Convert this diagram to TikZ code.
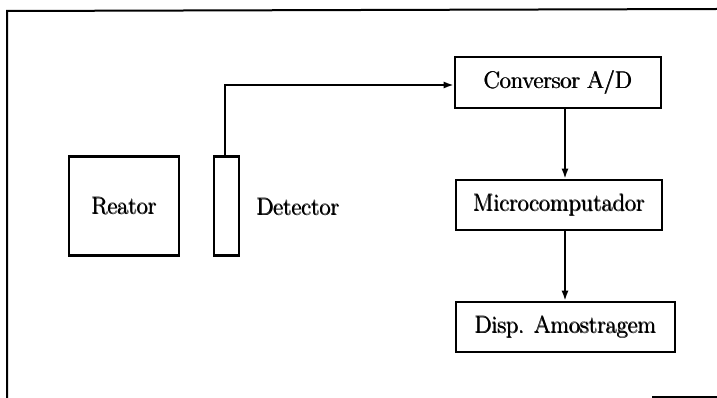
\documentclass[tikz,border=0pt]{standalone}
\usepackage{fontspec}
\usetikzlibrary{arrows.meta}
\newcommand{\heavytext}{\fontsize{24}{28}\selectfont\addfontfeatures{FakeStretch=1.2}}
\newcommand{\hv}[1]{\rlap{#1}\rlap{\raisebox{0.5pt}{#1}}\kern0.8pt#1}
\begin{document}
\begin{tikzpicture}[x=1pt,y=-1pt,
  blk/.style={draw,line width=2.6pt,inner sep=0pt,font=\heavytext},
  conn/.style={line width=1.8pt,-{Latex[length=10pt,width=7pt]}},
  frameline/.style={line width=2pt}]
\useasboundingbox (0,0) rectangle (717,398);
% frame (as scanned)
\coordinate (ftl) at (7,11);
\coordinate (ftr) at (717,9);
\coordinate (fbl) at (7,398);
\coordinate (fbr1) at (652,396.5);
\coordinate (fbr2) at (717,396.5);
\draw[frameline] (fbl) -- (ftl) -- (ftr);
\draw[frameline] (fbr1) -- (fbr2);
% blocks
\node[blk,minimum width=110pt,minimum height=99pt] (reator) at (124,206) {\hv{Reator}};
\node[blk,minimum width=25pt,minimum height=99pt] (det) at (226.5,206) {};
\node[font=\heavytext,anchor=west,inner sep=0pt] (detl) at (256,207) {\hv{Detector}};
\node[blk,minimum width=206pt,minimum height=51pt] (conv) at (558,82.5) {\hv{Conversor A/D}};
\node[blk,minimum width=206pt,minimum height=50pt] (micro) at (559,205) {\hv{Microcomputador}};
\node[blk,minimum width=219pt,minimum height=50pt] (disp) at (565.5,327) {\hv{Disp. Amostragem}};
% connectors
\coordinate (bend) at (225,85);
\draw[conn] (det.north -| bend) -- (bend) -- (conv.west |- bend);
\draw[conn] (conv.south -| 565,0) -- (micro.north -| 565,0);
\draw[conn] (micro.south -| 565,0) -- (disp.north -| 565,0);
\end{tikzpicture}
\end{document}
